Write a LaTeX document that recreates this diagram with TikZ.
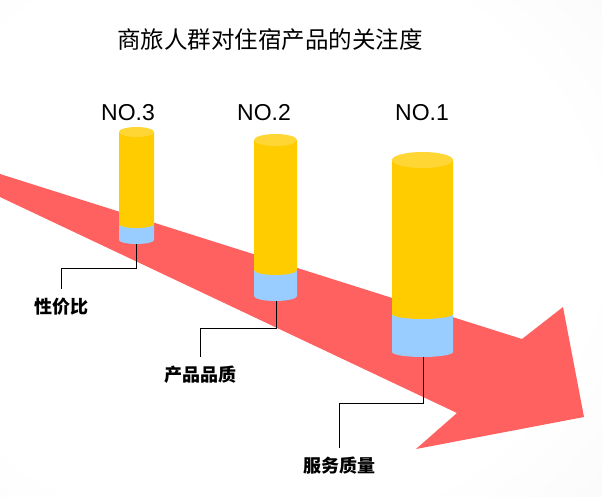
\documentclass[tikz,border=0pt]{standalone}
\usepackage{fontspec}
\setmainfont{Liberation Sans}
\newfontfamily\cjk{Noto Sans CJK SC}
\definecolor{arrowred}{RGB}{255,96,96}
\definecolor{cylyellow}{RGB}{255,204,0}
\definecolor{cyltop}{RGB}{255,214,51}
\definecolor{cylblue}{RGB}{153,204,255}
\definecolor{bgmid}{RGB}{240,240,241}
\definecolor{bgouter}{RGB}{210,210,212}
\pgfdeclareradialshading{bgshade}{\pgfpoint{0bp}{0bp}}{color(0bp)=(white); color(20bp)=(white); color(45bp)=(bgmid); color(72bp)=(bgouter)}
\newcommand\mycyl[7]{%
  \fill[cylblue] ({#1-#2},#5) -- ({#1-#2},#6) arc[start angle=180,end angle=360,x radius=#2pt,y radius=#7pt] -- ({#1+#2},#5) -- cycle;
  \fill[cylyellow] ({#1-#2},#3) -- ({#1-#2},#5) arc[start angle=180,end angle=360,x radius=#2pt,y radius=#7pt] -- ({#1+#2},#3) -- cycle;
  \fill[cyltop] (#1,#3) ellipse[x radius=#2pt,y radius=#4pt];
}
\begin{document}
\begin{tikzpicture}[x=1pt,y=-1pt,
  rank/.style={font=\fontsize{23}{25}\selectfont, inner sep=0pt},
  lbl/.style={font=\cjk\bfseries\fontsize{18}{20}\selectfont, inner xsep=1pt, inner ysep=9pt},
  conn/.style={draw=black, line width=0.8pt}]
\useasboundingbox (0,0) rectangle (602,496);
\begin{scope}
\clip (0,0) rectangle (602,496);
\shade[shading=bgshade] (-180,-120) rectangle (680,600);
\end{scope}
% title
\node[font=\cjk\fontsize{23.5}{26}\selectfont, inner sep=0pt] (title) at (270,40) {商旅人群对住宿产品的关注度};
% arrow
\fill[arrowred] (0,174) -- (522,339) -- (563,307) -- (584,417) -- (416,449) -- (457,413) -- (0,197) -- cycle;
% cylinders
\mycyl{136.5}{17.5}{132}{5}{224}{240}{4}
\mycyl{275.5}{21.5}{140}{6}{270}{296}{5}
\mycyl{422.5}{30.5}{160}{8}{314}{352}{5}
\coordinate (b3) at (136.5,244);
\coordinate (b2) at (276,301);
\coordinate (b1) at (423,357);
% rank labels
\node[rank] (n3) at (128,113) {NO.3};
\node[rank] (n2) at (264,113) {NO.2};
\node[rank] (n1) at (422,113) {NO.1};
% category labels
\node[lbl] (l3) at (61,307) {性价比};
\node[lbl] (l2) at (200,375) {产品品质};
\node[lbl] (l1) at (339,466) {服务质量};
% connectors
\draw[conn] (b3) -- ++(0,24) -| (l3.north);
\draw[conn] (b2) -- ++(0,27) -| (l2.north);
\draw[conn] (b1) -- ++(0,46) -| (l1.north);
\end{tikzpicture}
\end{document}
